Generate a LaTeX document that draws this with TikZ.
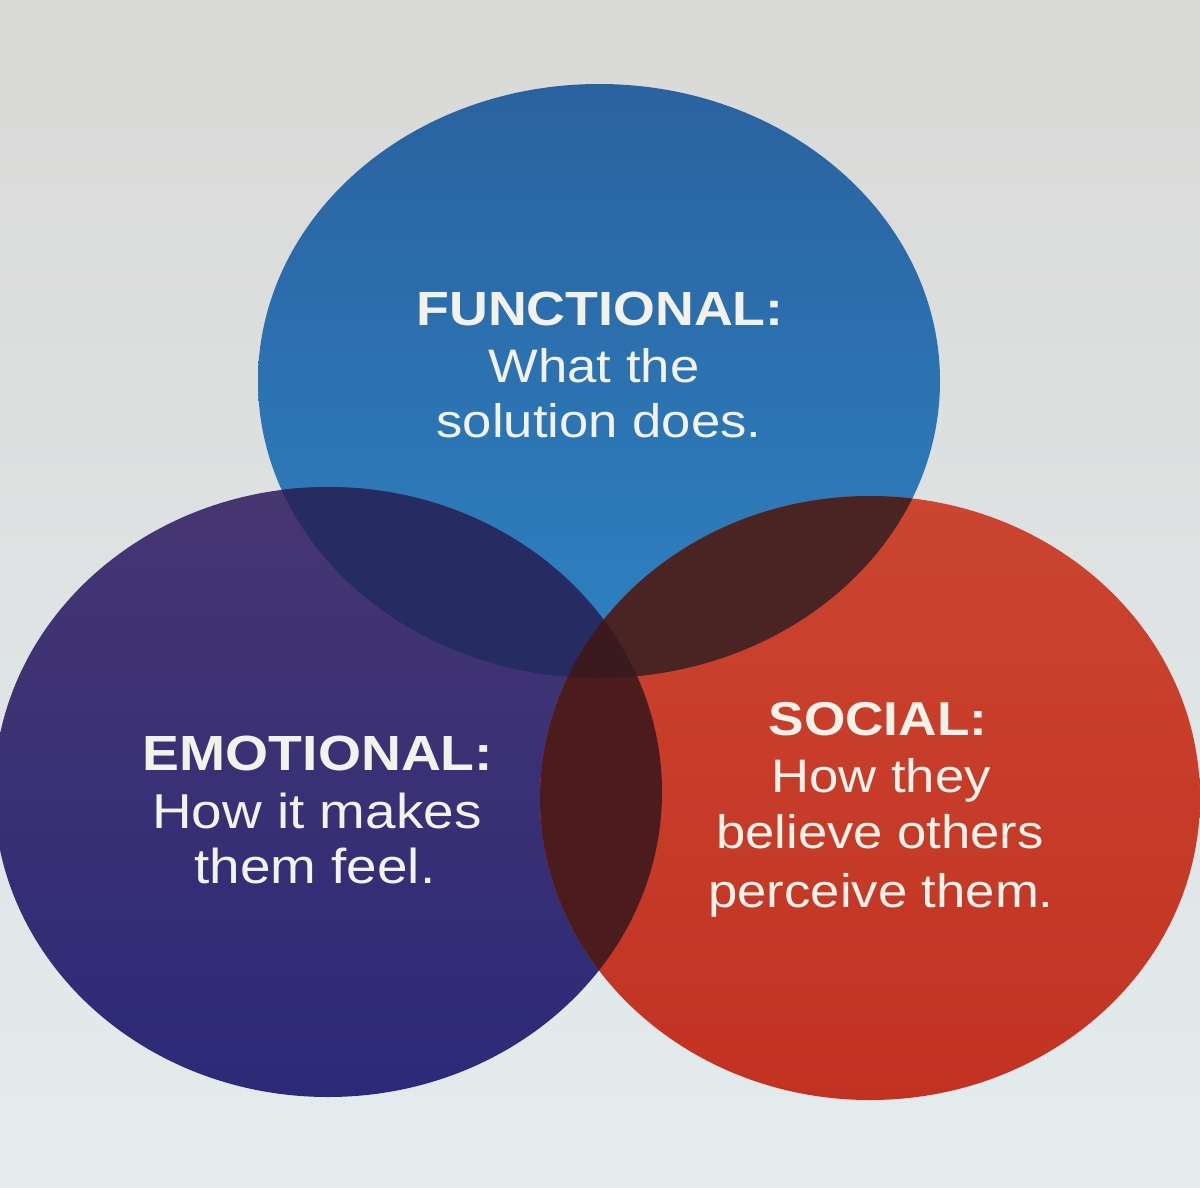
\documentclass[tikz,border=0pt]{standalone}
\usepackage{fontspec}
\setmainfont{Liberation Sans}
\usetikzlibrary{shapes.geometric}
\definecolor{bgtop}{HTML}{D9D9D7}
\definecolor{bgbot}{HTML}{E4ECEE}
\definecolor{bluetop}{HTML}{2A62A0}
\definecolor{bluebot}{HTML}{2E82C2}
\definecolor{purptop}{HTML}{463672}
\definecolor{purpbot}{HTML}{2C2A78}
\definecolor{redtop}{HTML}{CB4530}
\definecolor{redbot}{HTML}{C23222}
\definecolor{bpcol}{HTML}{262C62}
\definecolor{brcol}{HTML}{4A2422}
\definecolor{prcol}{HTML}{4C1B1E}
\definecolor{ctrcol}{HTML}{3A1A1E}
\definecolor{txt}{HTML}{F2F1EA}
\newcommand{\wide}[1]{\scalebox{1.12}[1]{#1}}
\tikzset{
  lbl/.style={anchor=base, text=txt, inner sep=0pt},
  ttl/.style={lbl, font=\bfseries\fontsize{#1}{#1}\selectfont},
  body/.style={lbl, font=\fontsize{#1}{#1}\selectfont},
  body/.default=47
}
\begin{document}
\begin{tikzpicture}[x=1pt,y=-1pt]
\useasboundingbox (0,0) rectangle (1200,1187);
\shade[top color=bgtop, bottom color=bgbot] (0,0) rectangle (1200,1187);
% base circles
\def\bluepath{(599,381) ellipse [x radius=341, y radius=297]}
\def\purppath{(328,792) ellipse [x radius=334, y radius=305]}
\def\redpath{(870,798) ellipse [x radius=330, y radius=302]}
\shade[top color=bluetop, bottom color=bluebot] \bluepath;
\shade[top color=purptop, bottom color=purpbot] \purppath;
\shade[top color=redtop, bottom color=redbot] \redpath;
% overlaps
\begin{scope}\clip \bluepath; \fill[bpcol] \purppath; \end{scope}
\begin{scope}\clip \bluepath; \fill[brcol] \redpath; \end{scope}
\begin{scope}\clip \purppath; \fill[prcol] \redpath; \end{scope}
\begin{scope}\clip \bluepath; \clip \purppath; \fill[ctrcol] \redpath; \end{scope}
% labels
\node[ttl=48] (f1) at (600,325) {\wide{FUNCTIONAL:}};
\node[body] (f2) at (594,382) {\wide{What the}};
\node[body] (f3) at (599,437) {\wide{solution does.}};
\node[ttl=49.4] (e1) at (318,770) {\wide{EMOTIONAL:}};
\node[body=49] (e2) at (317,828) {\wide{How it makes}};
\node[body=49] (e3) at (315,883) {\wide{them feel.}};
\node[ttl=47.5] (s1) at (878,735) {\wide{SOCIAL:}};
\node[body] (s2) at (881,792) {\wide{How they}};
\node[body] (s3) at (880,848) {\wide{believe others}};
\node[body] (s4) at (881,907) {\wide{perceive them.}};
\end{tikzpicture}
\end{document}
